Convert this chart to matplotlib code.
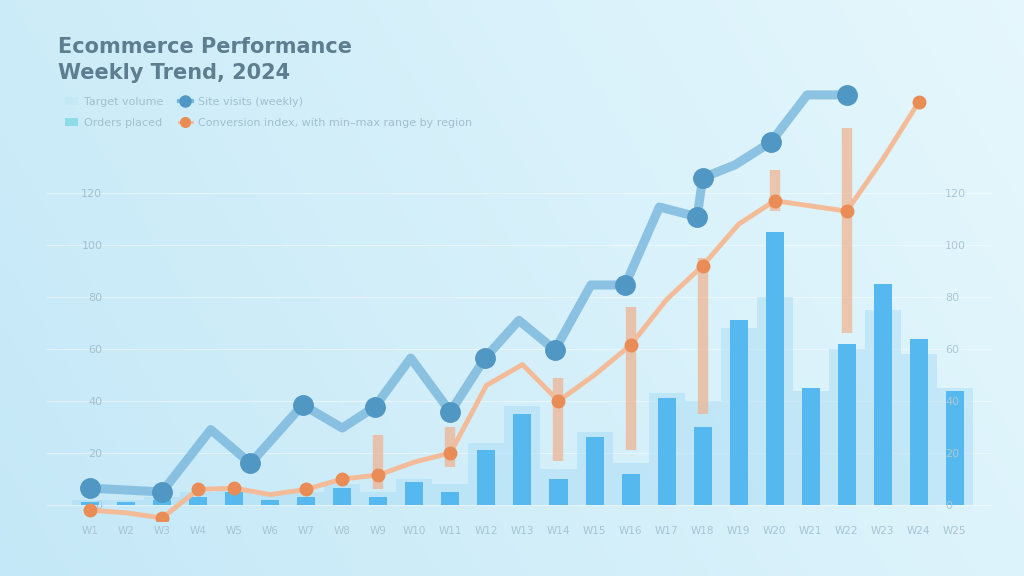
import matplotlib
matplotlib.use('Agg')
import matplotlib.pyplot as plt
from matplotlib.patches import Patch
from matplotlib.lines import Line2D
import numpy as np


weeks = ['W%d' % (i + 1) for i in range(25)]

# light background bars (target) and dark bars (orders)
target = [2, 2, 3, 5, 6, 4, 5, 8, 5, 10, 8, 24, 38, 14, 28, 16, 43, 40, 68, 80, 44, 60, 75, 58, 45]
orders = [1, 1, 2, 3, 5, 2, 3, 6.5, 3, 9, 5, 21, 35, 10, 26, 12, 41, 30, 71, 105, 45, 62, 85, 64, 44]

# blue line (site visits), drawn at its own x positions
visits_x = [0, 2, 3.35, 4.45, 5.9, 7, 7.9, 8.9, 10, 10.96, 11.9, 12.9, 13.9, 14.85, 15.8, 16.85, 17.0, 17.9, 18.9, 19.9, 21]
visits = [6.5, 5, 29, 16, 38.5, 29.6, 37.7, 56.5, 35.8, 56.5, 71, 59.6, 84.6, 84.6, 114.6, 110.8, 125.8, 130.8, 139.6, 157.7, 157.7]
visits_marked = [0, 2, 4.45, 5.9, 7.9, 10, 10.96, 12.9, 14.85, 16.85, 17.0, 18.9, 21]

# orange line (conversion index) with min-max ranges
conv = [-2, -3, -5, 6, 6.5, 4, 6, 10, 11.5, 16.5, 20, 46, 54, 40, 50, 61.5, 79, 92, 108, 117, 115, 113, 133, 155]
range_idx = [8, 10, 13, 15, 17, 19, 21]
range_low = [6, 14.6, 17, 21, 35, 113, 66]
range_high = [27, 30, 49, 76, 95, 129, 145]
conv_marked = [0, 2, 3, 4, 6, 7, 8, 10, 13, 15, 17, 19, 21, 23]

yticks = [0, 20, 40, 60, 80, 100, 120]

fig = plt.figure(figsize=(10.24, 5.76), dpi=100)

# soft gradient background
bg = fig.add_axes([0, 0, 1, 1], zorder=-10)
gx = np.linspace(0, 1, 256)
gy = np.linspace(0, 1, 144)
GX, GY = np.meshgrid(gx, gy)
c_left = np.array([0.77, 0.91, 0.97])
c_right = np.array([0.90, 0.97, 0.99])
t = np.clip(0.75 * GX + 0.25 * (1 - GY), 0, 1)[..., None]
img = c_left * (1 - t) + c_right * t
bg.imshow(img, aspect='auto', extent=[0, 1, 0, 1], origin='upper')
bg.axis('off')

ax = fig.add_axes([0.0457, 0.0962, 0.922, 0.772])
ax.patch.set_alpha(0)
x = np.arange(len(weeks))

ax.bar(x, target, width=1.0, color='#a9ddf6', alpha=0.5, zorder=1)
ax.bar(x, orders, width=0.5, color='#55b9f0', zorder=2)

xc = np.arange(len(conv))
ax.vlines(range_idx, range_low, range_high, color='#f0b08c', lw=7.5, alpha=0.7, zorder=3)
ax.plot(xc, conv, color='#f3bb97', lw=3.5, zorder=4)
ax.plot(conv_marked, [conv[i] for i in conv_marked], 'o', color='#e98c55', ms=9, zorder=5)

ax.plot(visits_x, visits, color='#78b6dc', lw=6.5, alpha=0.8, zorder=6, solid_capstyle='round')
vm = [visits[visits_x.index(v)] for v in visits_marked]
ax.plot(visits_marked, vm, 'o', color='#5097c4', ms=14, zorder=7)

ax.set_xlim(-1.2, 25)
ax.set_ylim(-6, 165)
ax.set_xticks(x)
ax.set_xticklabels(weeks, fontsize=7.5, color='#a6c4d3')
ax.set_yticks(yticks)
ax.set_yticklabels([str(v) for v in yticks], fontsize=8, color='#a2c0cf')
ax.tick_params(axis='y', length=0, pad=-40)
ax.tick_params(axis='x', length=0, pad=4)
ax.grid(axis='y', color='white', lw=0.8, alpha=0.45)
ax.set_axisbelow(True)
for s in ax.spines.values():
    s.set_visible(False)

# same scale repeated on the right, inside the plot area
ax2 = ax.twinx()
ax2.set_ylim(ax.get_ylim())
ax2.set_yticks(yticks)
ax2.set_yticklabels([str(v) for v in yticks], fontsize=8, color='#abc8d6')
ax2.tick_params(axis='y', length=0, pad=-33)
for lab in ax2.get_yticklabels():
    lab.set_zorder(0)
for s in ax2.spines.values():
    s.set_visible(False)

fig.text(0.057, 0.935, 'Ecommerce Performance\nWeekly Trend, 2024', fontsize=15,
         fontweight='semibold', color='#5d7d90', va='top', ha='left', linespacing=1.35)

handles = [
    Patch(facecolor='#c4e9f5', edgecolor='none'),
    Patch(facecolor='#8fdbe8', edgecolor='none'),
    Line2D([], [], color='#78b6dc', lw=3, marker='o', ms=8, mfc='#5097c4', mec='#5097c4'),
    Line2D([], [], color='#f3bb97', lw=2, marker='o', ms=7, mfc='#e98c55', mec='#e98c55'),
]
labels = ['Target volume', 'Orders placed', 'Site visits (weekly)',
          'Conversion index, with min\u2013max range by region']
fig.legend(handles, labels, loc='upper left', bbox_to_anchor=(0.058, 0.842), ncol=2,
           frameon=False, fontsize=8, handlelength=1.2, handletextpad=0.5,
           columnspacing=1.4, labelspacing=1.0, borderpad=0, labelcolor='#a2bfcd')

fig.savefig('out.png', dpi=100)
